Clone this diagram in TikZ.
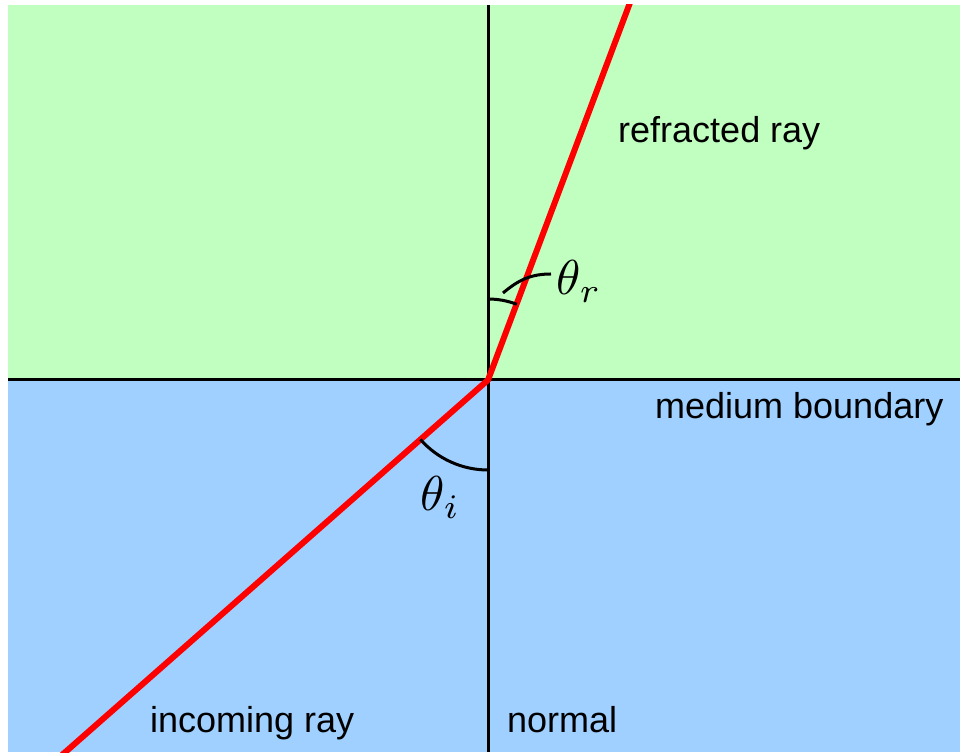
\documentclass[tikz,border=0pt]{standalone}
\usepackage{fontspec}
\setmainfont{Liberation Sans}
\definecolor{topgreen}{RGB}{192,255,192}
\definecolor{botblue}{RGB}{160,208,255}
\tikzset{
  blackline/.style={draw=black, line width=3pt},
  rayline/.style={draw=red, line width=6pt, line join=round},
  txt/.style={inner sep=0pt, anchor=base west, font=\fontsize{36}{43}\selectfont},
  mathlbl/.style={inner sep=0pt, anchor=base west, font=\normalsize, scale=4.9, transform shape}
}
\begin{document}
\begin{tikzpicture}[x=1pt,y=1pt]
\useasboundingbox (0,0) rectangle (960,752);
\coordinate (O) at (488,372);
\coordinate (rtop) at (631,752);
\coordinate (ibot) at (62,-3);
\coordinate (ntop) at (488,747);
\coordinate (nbot) at (488,0);
\coordinate (bl) at (8,372);
\coordinate (br) at (960,372);
\fill[topgreen] (8,372) rectangle (960,747);
\fill[botblue] (8,0) rectangle (960,372);
\begin{scope}
\clip (8,0) rectangle (960,747);
\draw[blackline] (ntop) -- (nbot);
\draw[blackline] (bl) -- (br);
\draw[rayline] (ibot) -- (O) -- (rtop);
\end{scope}
% angle arcs
\draw[blackline] ([shift={(270:90pt)}]O) arc[start angle=270, end angle=221.3, radius=90pt];
\draw[blackline] ([shift={(90:81pt)}]O) arc[start angle=90, end angle=69.1, radius=81pt];
% labels
\node[mathlbl] (thr) at (556,457) {$\theta_r$};
\node[mathlbl] (thi) at (420,241) {$\theta_i$};
\coordinate (pinstart) at (503,459);
\coordinate (pinend) at (551,478);
\draw[blackline] (pinstart) to[out=40,in=180] (pinend);
\node[txt] (refr) at (618,609) {refracted ray};
\node[txt] (medb) at (655,333) {medium boundary};
\node[txt] (inc) at (150,20) {incoming ray};
\node[txt] (norm) at (507,20) {normal};
\end{tikzpicture}
\end{document}
